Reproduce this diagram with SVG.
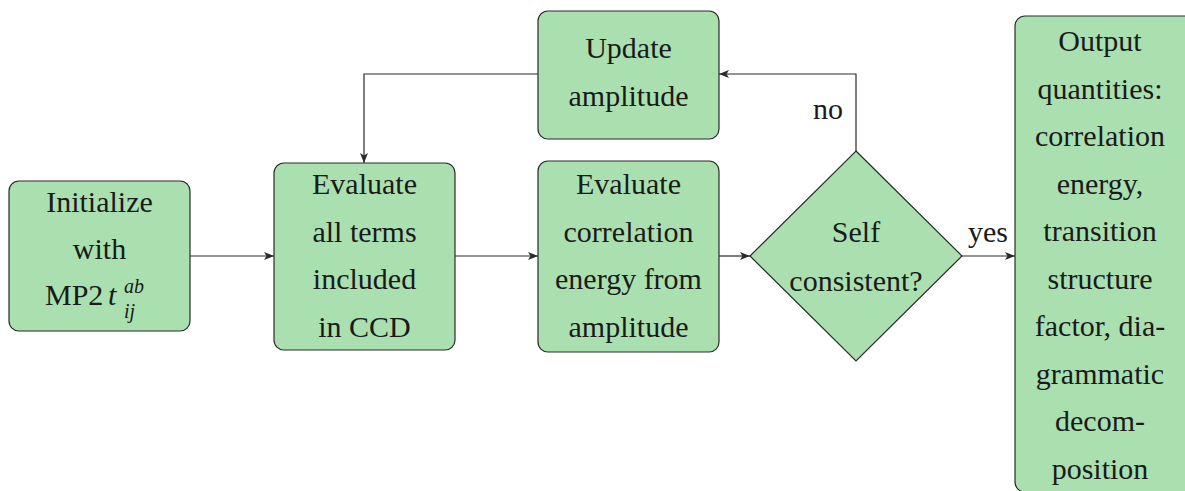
<svg xmlns="http://www.w3.org/2000/svg" width="1185" height="491" viewBox="0 0 1185 491" font-family="Liberation Serif, DejaVu Serif, serif">
<style>
.box{fill:#aae0b0;stroke:#2a2a2a;stroke-width:1.2}
.t{font-size:30px;fill:#1a1a1a;text-anchor:middle}
.m{font-style:italic;fill:#1a1a1a}
.c{fill:none;stroke:#2a2a2a;stroke-width:1.2}
</style>
<defs>
<marker id="ah" viewBox="0 0 10 8" refX="10" refY="4" markerWidth="10" markerHeight="8" markerUnits="userSpaceOnUse" orient="auto">
<path d="M0,0 L10,4 L0,8 L2.5,4 Z" fill="#2a2a2a"/>
</marker>
</defs>
<g id="connectors">
<path class="c" d="M190,256 H274" marker-end="url(#ah)"/>
<path class="c" d="M455,256 H538" marker-end="url(#ah)"/>
<path class="c" d="M719,256 H750" marker-end="url(#ah)"/>
<path class="c" d="M962,256 H1015" marker-end="url(#ah)"/>
<path class="c" d="M856,151 V74 H719" marker-end="url(#ah)"/>
<path class="c" d="M538,74 H364 V163" marker-end="url(#ah)"/>
<text class="t" x="828" y="119">no</text>
<text class="t" x="988" y="242">yes</text>
</g>
<g id="init">
<rect class="box" x="9" y="181" width="181" height="150" rx="10"/>
<text class="t" x="99.5" y="212">Initialize</text>
<text class="t" x="99.5" y="259">with</text>
<text class="t" x="45" y="305" style="text-anchor:start">MP2</text>
<text class="m" x="108" y="305" font-size="30">t</text>
<text class="m" x="124" y="293" font-size="20">ab</text>
<text class="m" x="124" y="318" font-size="20">ij</text>
</g>
<g id="evalterms">
<rect class="box" x="274" y="163" width="181" height="187" rx="10"/>
<text class="t" x="364.5" y="194">Evaluate</text>
<text class="t" x="364.5" y="242">all terms</text>
<text class="t" x="364.5" y="289">included</text>
<text class="t" x="364.5" y="337">in CCD</text>
</g>
<g id="evalenergy">
<rect class="box" x="538" y="161" width="181" height="191" rx="10"/>
<text class="t" x="628.5" y="194">Evaluate</text>
<text class="t" x="628.5" y="242">correlation</text>
<text class="t" x="628.5" y="289">energy from</text>
<text class="t" x="628.5" y="337">amplitude</text>
</g>
<g id="update">
<rect class="box" x="538" y="11" width="181" height="128" rx="10"/>
<text class="t" x="628.5" y="58">Update</text>
<text class="t" x="628.5" y="106">amplitude</text>
</g>
<g id="decision">
<polygon class="box" points="856,151 962,256 856,361 750,256"/>
<text class="t" x="856" y="242">Self</text>
<text class="t" x="856" y="291">consistent?</text>
</g>
<g id="output">
<rect class="box" x="1015" y="16" width="185" height="476" rx="10"/>
<text class="t" x="1100" y="51">Output</text>
<text class="t" x="1100" y="98.5">quantities:</text>
<text class="t" x="1100" y="146">correlation</text>
<text class="t" x="1100" y="193.5">energy,</text>
<text class="t" x="1100" y="241">transition</text>
<text class="t" x="1100" y="288.5">structure</text>
<text class="t" x="1100" y="336">factor, dia-</text>
<text class="t" x="1100" y="383.5">grammatic</text>
<text class="t" x="1100" y="431">decom-</text>
<text class="t" x="1100" y="478.5">position</text>
</g>
</svg>
